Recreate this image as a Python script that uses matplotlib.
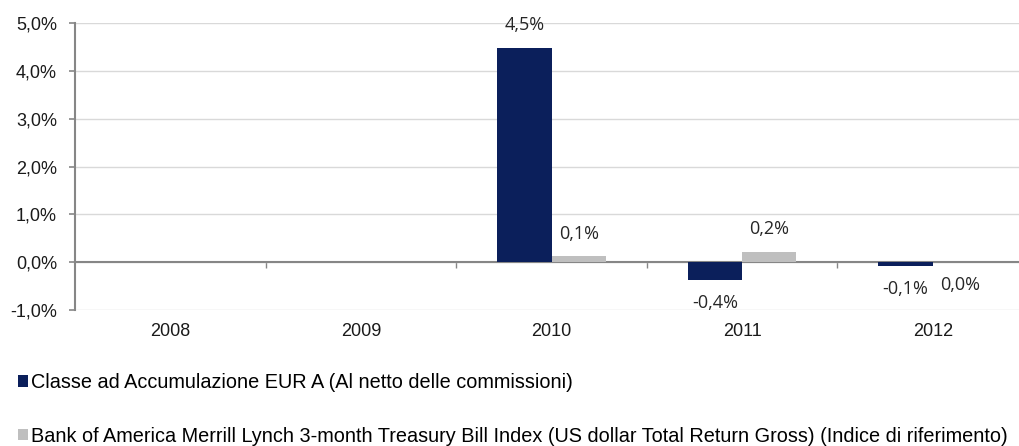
import numpy as np
import matplotlib.pyplot as plt
from matplotlib.patches import Patch
from matplotlib.ticker import FuncFormatter

# dati del grafico
anni = ['2008', '2009', '2010', '2011', '2012']
classe_a = [np.nan, np.nan, 4.47, -0.38, -0.08]
indice = [np.nan, np.nan, 0.12, 0.21, 0.0]
etichette_a = ['', '', '4,5%', '-0,4%', '-0,1%']
etichette_idx = ['', '', '0,1%', '0,2%', '0,0%']
nome_a = 'Classe ad Accumulazione EUR A (Al netto delle commissioni)'
nome_idx = ('Bank of America Merrill Lynch 3-month Treasury Bill Index '
            '(US dollar Total Return Gross) (Indice di riferimento)')

blu = '#0b1f5b'
grigio = '#bfbfbf'
asse = '#868686'

fig = plt.figure(figsize=(10.19, 4.46), dpi=100)
ax = fig.add_axes([75 / 1019, 136 / 446, 953 / 1019, 287 / 446])

x = np.arange(len(anni))
w = 0.285
ax.bar(x - w / 2, classe_a, w, color=blu, zorder=3)
ax.bar(x + w / 2, indice, w, color=grigio, zorder=3)

# etichette dei valori
lab_font = dict(family=['Open Sans', 'DejaVu Sans'], fontsize=13, color='#262626')
for xs, vals, labs in [(x - w / 2, classe_a, etichette_a), (x + w / 2, indice, etichette_idx)]:
    for xi, v, t in zip(xs, vals, labs):
        if not t:
            continue
        off = 16.5 if v > 0 else -16.5
        ax.annotate(t, (xi, v), xytext=(0, off), textcoords='offset points',
                    ha='center', va='center', **lab_font)

ax.set_xlim(-0.5, len(anni) - 0.5)
ax.set_ylim(-1, 5)
ax.set_yticks(np.arange(-1, 6, 1))
ax.yaxis.set_major_formatter(FuncFormatter(lambda v, p: f'{v:.1f}%'.replace('.', ',')))
ax.grid(axis='y', color='#d9d9d9', linewidth=1, zorder=0)
ax.set_axisbelow(True)

# asse x sullo zero
ax.spines['bottom'].set_position(('data', 0))
ax.spines['bottom'].set_color(asse)
ax.spines['bottom'].set_linewidth(1.5)
ax.spines['left'].set_color(asse)
ax.spines['left'].set_linewidth(1.5)
ax.spines['top'].set_visible(False)
ax.spines['right'].set_visible(False)

ax.set_xticks(x)
ax.set_xticklabels(anni)
ax.set_xticks(np.arange(0.5, len(anni) - 0.5, 1), minor=True)
ax.tick_params(axis='x', which='major', length=0, pad=44)
ax.tick_params(axis='x', which='minor', length=4, width=1, color=asse, direction='out')
ax.tick_params(axis='y', length=4, width=1.2, color=asse, pad=9)
for lbl in ax.get_xticklabels() + ax.get_yticklabels():
    lbl.set_fontfamily(['Liberation Sans', 'DejaVu Sans'])
    lbl.set_fontsize(13)
    lbl.set_color('#1a1a1a')

# legenda
handles = [Patch(facecolor=blu, label=nome_a), Patch(facecolor=grigio, label=nome_idx)]
fig.legend(handles=handles, loc='upper left', bbox_to_anchor=(10 / 1019, 1 - 365 / 446),
           frameon=False, handlelength=0.5, handleheight=0.5, handletextpad=0.15,
           labelspacing=1.75, borderaxespad=0,
           prop=dict(family=['Liberation Sans', 'DejaVu Sans'], size=14.3))

fig.savefig('out.png', dpi=100)
